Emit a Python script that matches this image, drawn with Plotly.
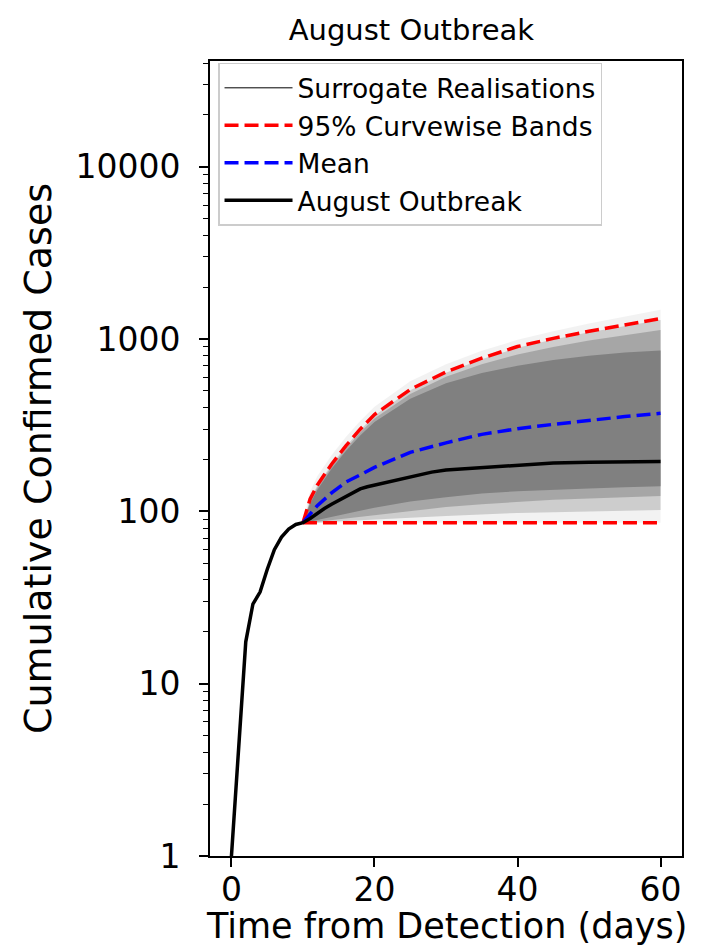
import plotly.graph_objects as go

# ---------------- data ----------------
obs_days = [0, 1, 2, 3, 4, 5, 6, 7, 8, 9, 10, 11, 12, 13, 14, 15, 16, 17, 18, 19, 20,
            22, 24, 26, 28, 30, 32, 35, 38, 40, 45, 50, 55, 60]
obs_cases = [1, 4.2, 17.5, 29, 34, 46, 60, 71, 79, 84, 86, 91, 98, 104, 110, 116, 121, 128, 135, 139, 142,
             148, 155, 161, 169, 174, 176, 180, 184, 186, 191, 193, 194, 195]

sur_days = [10, 11, 12, 14, 16, 18, 20, 25, 30, 35, 40, 45, 50, 55, 60]
band_upper = [86, 118, 142, 188, 240, 300, 365, 510, 645, 775, 905, 1010, 1110, 1210, 1315]
band_lower = [86, 86, 86, 86, 86, 86, 86, 86, 86, 86, 86, 86, 86, 86, 86]
mean_cases = [86, 97, 108, 128, 148, 163, 180, 220, 250, 280, 302, 320, 338, 355, 371]

# envelopes of the grey surrogate realisations, from outermost to densest
sur_max = [86, 130, 160, 212, 270, 335, 405, 570, 715, 855, 990, 1110, 1230, 1350, 1480]
sur_upper_2 = [86, 117, 141, 187, 238, 297, 360, 505, 638, 765, 890, 995, 1095, 1190, 1290]
sur_upper_3 = [86, 114, 137, 182, 231, 287, 346, 480, 605, 715, 815, 900, 980, 1055, 1130]
sur_dense_upper = [86, 111, 133, 177, 224, 276, 330, 450, 555, 635, 700, 755, 800, 835, 860]
sur_dense_lower = [86, 87, 89, 93, 97, 101, 105, 114, 121, 127, 131, 134, 136, 138, 140]
sur_lower_3 = [86, 86, 87, 89, 91, 93, 95, 101, 106, 110, 114, 117, 119, 121, 123]
sur_lower_2 = [86, 86, 86, 87, 88, 89, 90, 92, 94, 96, 98, 99, 100, 101, 102]
sur_min = [86, 86, 86, 86, 86, 86, 86, 86, 86, 86, 86, 86, 86, 86, 86]

y_tickvals = [1, 10, 100, 1000, 10000]
y_ticktext = ["1", "10", "100", "1000", "10000"]
x_tickvals = [0, 20, 40, 60]

FONT = "DejaVu Sans"

fig = go.Figure()


def band(lo, hi, color):
    fig.add_trace(go.Scatter(x=sur_days, y=lo, mode="lines", line=dict(width=0),
                             showlegend=False, hoverinfo="skip"))
    fig.add_trace(go.Scatter(x=sur_days, y=hi, mode="lines", line=dict(width=0),
                             fill="tonexty", fillcolor=color, showlegend=False, hoverinfo="skip"))


band(sur_min, sur_max, "rgba(128,128,128,0.10)")
band(sur_lower_2, sur_upper_2, "rgba(128,128,128,0.32)")
band(sur_lower_3, sur_upper_3, "rgba(128,128,128,0.50)")
band(sur_dense_lower, sur_dense_upper, "rgb(128,128,128)")

# legend entry for the realisations
fig.add_trace(go.Scatter(x=[None], y=[None], mode="lines", name="Surrogate Realisations",
                         legendgroup="g1", line=dict(color="black", width=1)))

DASH = "14px,6px"
fig.add_trace(go.Scatter(x=sur_days, y=band_upper, mode="lines", name="95% Curvewise Bands",
                         legendgroup="g2", line=dict(color="#ff0000", width=3.5, dash=DASH)))
fig.add_trace(go.Scatter(x=sur_days, y=band_lower, mode="lines", showlegend=False,
                         legendgroup="g2", line=dict(color="#ff0000", width=3.5, dash=DASH)))
fig.add_trace(go.Scatter(x=sur_days, y=mean_cases, mode="lines", name="Mean",
                         legendgroup="g3", line=dict(color="#0000ff", width=3.5, dash=DASH)))
fig.add_trace(go.Scatter(x=obs_days, y=obs_cases, mode="lines", name="August Outbreak",
                         legendgroup="g4", line=dict(color="black", width=3.5)))

minor_vals = [m * 10 ** e for e in range(0, 5) for m in range(2, 10)]

fig.update_layout(
    width=704, height=951,
    margin=dict(l=202, r=30, t=53, b=103),
    paper_bgcolor="white", plot_bgcolor="white",
    font=dict(family=FONT, color="black", size=33),
    title=dict(text="August Outbreak", x=0.573, xanchor="center",
               y=1 - 22 / 951, yanchor="middle", yref="container",
               font=dict(size=29, family=FONT)),
    legend=dict(x=0.017, y=0.998, xanchor="left", yanchor="top",
                bgcolor="rgba(255,255,255,0.9)", bordercolor="#cccccc", borderwidth=1.5,
                font=dict(size=26.5, family=FONT), traceorder="normal", tracegroupgap=3,
                itemwidth=68),
    showlegend=True,
    annotations=[dict(text="Time from Detection (days)", xref="paper", yref="paper",
                      x=0.5, y=-(918 - 848) / 795, xanchor="center", yanchor="middle",
                      showarrow=False, font=dict(size=35, family=FONT, color="black"))],
)

fig.update_xaxes(
    range=[-3, 63], tickvals=x_tickvals, ticks="outside", ticklen=9, tickwidth=1.5,
    tickcolor="black", showline=True, linecolor="black", linewidth=1.8, mirror=True,
    showgrid=False, zeroline=False, tickfont=dict(size=33), ticklabelstandoff=-6,
)
fig.update_yaxes(
    type="log", range=[0, 4.614], tickvals=y_tickvals, ticktext=y_ticktext,
    ticks="outside", ticklen=9, tickwidth=1.5, tickcolor="black",
    showline=True, linecolor="black", linewidth=1.8, mirror=True,
    showgrid=False, zeroline=False, tickfont=dict(size=33), ticklabelstandoff=12,
    minor=dict(tickvals=minor_vals, ticks="outside", ticklen=5, tickwidth=1.2,
               tickcolor="black", showgrid=False),
    title=dict(text="Cumulative Confirmed Cases", font=dict(size=38), standoff=12),
)

fig.write_html("out.html")
